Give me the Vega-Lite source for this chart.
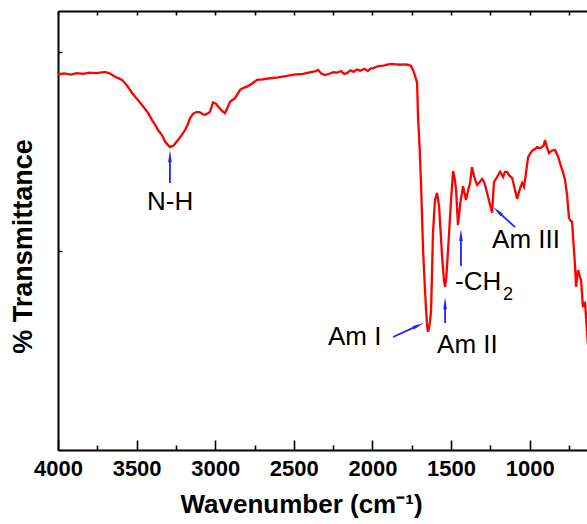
{
  "$schema": "https://vega.github.io/schema/vega-lite/v6.json",
  "width": 530,
  "height": 439,
  "autosize": {"type": "none"},
  "padding": {"left": 58, "top": 11, "right": 0, "bottom": 74},
  "background": "white",
  "config": {"view": {"stroke": null}, "font": "Liberation Sans"},
  "datasets": {
    "spectrum": [
      {"wn":4000,"t":94.4},{"wn":3960,"t":94.6},{"wn":3920,"t":94.3},{"wn":3880,"t":94.7},{"wn":3840,"t":94.5},{"wn":3800,"t":94.8},{"wn":3760,"t":94.7},{"wn":3720,"t":94.9},{"wn":3700,"t":95.0},{"wn":3670,"t":94.6},{"wn":3637,"t":93.8},{"wn":3610,"t":93.3},{"wn":3593,"t":93.0},{"wn":3560,"t":91.5},{"wn":3529,"t":89.7},{"wn":3500,"t":88.3},{"wn":3466,"t":86.7},{"wn":3427,"t":84.7},{"wn":3402,"t":82.9},{"wn":3380,"t":81.6},{"wn":3364,"t":80.4},{"wn":3340,"t":79.2},{"wn":3319,"t":77.5},{"wn":3300,"t":76.6},{"wn":3288,"t":76.1},{"wn":3265,"t":76.5},{"wn":3237,"t":77.9},{"wn":3215,"t":79.0},{"wn":3192,"t":80.4},{"wn":3175,"t":81.8},{"wn":3160,"t":83.4},{"wn":3140,"t":84.5},{"wn":3120,"t":84.9},{"wn":3100,"t":84.9},{"wn":3080,"t":84.4},{"wn":3065,"t":84.2},{"wn":3045,"t":84.6},{"wn":3033,"t":85.0},{"wn":3014,"t":87.3},{"wn":2995,"t":87.0},{"wn":2982,"t":86.3},{"wn":2960,"t":85.3},{"wn":2938,"t":84.6},{"wn":2920,"t":86.2},{"wn":2906,"t":87.5},{"wn":2874,"t":88.4},{"wn":2842,"t":90.5},{"wn":2820,"t":91.0},{"wn":2798,"t":91.3},{"wn":2765,"t":92.1},{"wn":2734,"t":93.0},{"wn":2700,"t":93.1},{"wn":2651,"t":93.4},{"wn":2600,"t":93.6},{"wn":2543,"t":94.0},{"wn":2500,"t":94.3},{"wn":2441,"t":94.5},{"wn":2400,"t":94.9},{"wn":2360,"t":95.2},{"wn":2346,"t":95.5},{"wn":2325,"t":94.6},{"wn":2302,"t":94.2},{"wn":2270,"t":94.6},{"wn":2250,"t":94.9},{"wn":2225,"t":94.8},{"wn":2200,"t":95.2},{"wn":2180,"t":94.5},{"wn":2162,"t":94.7},{"wn":2140,"t":95.4},{"wn":2120,"t":95.0},{"wn":2100,"t":95.6},{"wn":2079,"t":95.3},{"wn":2050,"t":95.8},{"wn":2030,"t":95.2},{"wn":2010,"t":95.9},{"wn":1996,"t":95.9},{"wn":1975,"t":96.3},{"wn":1952,"t":96.5},{"wn":1930,"t":96.6},{"wn":1900,"t":96.9},{"wn":1875,"t":97.0},{"wn":1850,"t":96.9},{"wn":1825,"t":96.8},{"wn":1800,"t":96.9},{"wn":1774,"t":96.8},{"wn":1755,"t":96.5},{"wn":1742,"t":95.5},{"wn":1729,"t":94.0},{"wn":1716,"t":92.2},{"wn":1710,"t":83.7},{"wn":1700,"t":76.0},{"wn":1691,"t":67.1},{"wn":1678,"t":50.3},{"wn":1668,"t":42.0},{"wn":1659,"t":35.2},{"wn":1652,"t":31.0},{"wn":1646,"t":29.7},{"wn":1640,"t":30.8},{"wn":1633,"t":32.5},{"wn":1627,"t":35.2},{"wn":1615,"t":54.5},{"wn":1602,"t":62.8},{"wn":1589,"t":64.6},{"wn":1576,"t":61.1},{"wn":1565,"t":54.0},{"wn":1557,"t":48.5},{"wn":1545,"t":42.5},{"wn":1538,"t":41.0},{"wn":1530,"t":43.5},{"wn":1519,"t":50.3},{"wn":1500,"t":62.8},{"wn":1487,"t":70.1},{"wn":1478,"t":68.5},{"wn":1468,"t":65.3},{"wn":1462,"t":61.0},{"wn":1456,"t":56.5},{"wn":1448,"t":59.5},{"wn":1438,"t":63.0},{"wn":1430,"t":64.6},{"wn":1424,"t":66.3},{"wn":1405,"t":62.8},{"wn":1390,"t":65.5},{"wn":1379,"t":67.1},{"wn":1367,"t":71.1},{"wn":1355,"t":69.0},{"wn":1347,"t":67.9},{"wn":1334,"t":66.6},{"wn":1318,"t":67.3},{"wn":1303,"t":68.1},{"wn":1293,"t":67.6},{"wn":1284,"t":66.6},{"wn":1265,"t":63.7},{"wn":1252,"t":61.6},{"wn":1239,"t":59.6},{"wn":1233,"t":63.5},{"wn":1227,"t":67.3},{"wn":1210,"t":68.4},{"wn":1188,"t":69.9},{"wn":1169,"t":68.6},{"wn":1157,"t":69.9},{"wn":1144,"t":69.9},{"wn":1130,"t":69.0},{"wn":1112,"t":68.4},{"wn":1093,"t":65.3},{"wn":1080,"t":63.1},{"wn":1070,"t":64.5},{"wn":1061,"t":65.8},{"wn":1048,"t":67.1},{"wn":1036,"t":66.1},{"wn":1022,"t":70.0},{"wn":1010,"t":73.6},{"wn":995,"t":74.6},{"wn":979,"t":75.4},{"wn":965,"t":75.6},{"wn":953,"t":76.1},{"wn":935,"t":75.8},{"wn":921,"t":76.1},{"wn":910,"t":76.6},{"wn":902,"t":77.9},{"wn":890,"t":76.0},{"wn":877,"t":74.6},{"wn":860,"t":75.2},{"wn":839,"t":75.4},{"wn":820,"t":73.8},{"wn":807,"t":72.1},{"wn":790,"t":70.0},{"wn":775,"t":67.9},{"wn":762,"t":64.0},{"wn":750,"t":58.3},{"wn":740,"t":57.6},{"wn":730,"t":57.3},{"wn":724,"t":53.5},{"wn":711,"t":46.0},{"wn":705,"t":41.0},{"wn":698,"t":43.5},{"wn":692,"t":45.2},{"wn":680,"t":43.5},{"wn":673,"t":42.7},{"wn":661,"t":35.9},{"wn":648,"t":37.2},{"wn":635,"t":29.4},{"wn":620,"t":22.0}
    ],
    "arrows": [
      {"name":"N-H","wn":3288,"t":67.1,"wn2":3288,"t2":73.0},
      {"name":"Am I","wn":1869,"t":28.4,"wn2":1707,"t2":31.3},
      {"name":"Am II","wn":1538,"t":31.9,"wn2":1538,"t2":36.5},
      {"name":"CH2","wn":1437,"t":46.2,"wn2":1437,"t2":53.5},
      {"name":"Am III","wn":1093,"t":56.0,"wn2":1205,"t2":60.0}
    ],
    "heads": [
      {"name":"N-H","dir":"up","wn":3288,"t":73.8},
      {"name":"Am II","dir":"up","wn":1538,"t":36.9},
      {"name":"CH2","dir":"up","wn":1437,"t":54.0},
      {"name":"Am I","dir":"upright","wn":1707,"t":31.3},
      {"name":"Am III","dir":"upleft","wn":1205,"t":60.06}
    ],
    "labels": [
      {"text":"N-H","kind":"main","wn":3434,"t":60.3},
      {"text":"Am I","kind":"main","wn":2283,"t":26.4},
      {"text":"Am II","kind":"main","wn":1589,"t":24.4},
      {"text":"-CH","kind":"main","wn":1475,"t":40.2},
      {"text":"Am III","kind":"main","wn":1239,"t":50.8},
      {"text":"2","kind":"sub","wn":1169,"t":37.7}
    ]
  },
  "layer": [
    {
      "data": {"name": "spectrum"},
      "mark": {"type": "line", "color": "#ff0000", "strokeWidth": 2.3, "clip": true},
      "encoding": {
        "x": {
          "field": "wn", "type": "quantitative",
          "scale": {"domain": [4000, 629], "nice": false, "zero": false},
          "axis": {
            "orient": "bottom",
            "values": [4000,3500,3000,2500,2000,1500,1000],
            "format": "d",
            "tickSize": -10,
            "tickColor": "black", "tickWidth": 1.6,
            "domainColor": "black", "domainWidth": 2,
            "labelFont": "Liberation Sans", "labelFontWeight": "bold", "labelFontSize": 22, "labelColor": "black",
            "labelPadding": 18, "labelFlush": false, "labelOverlap": false,
            "grid": false,
            "title": "Wavenumber (cm⁻¹)",
            "titleFont": "Liberation Sans", "titleFontWeight": "bold", "titleFontSize": 26, "titleColor": "black",
            "titleX": 243, "titleY": 62, "titleBaseline": "alphabetic"
          }
        },
        "y": {
          "field": "t", "type": "quantitative",
          "scale": {"domain": [0, 110.3], "nice": false, "zero": false},
          "title": "% Transmittance",
          "axis": {
            "orient": "left", "values": [0, 50, 100], "labels": false,
            "tickSize": -4, "tickColor": "black", "tickWidth": 1.4,
            "domainColor": "black", "domainWidth": 2, "grid": false,
            "titleFont": "Liberation Sans", "titleFontWeight": "bold", "titleFontSize": 27, "titleColor": "black",
            "titleAngle": 270, "titleBaseline": "middle", "titleAlign": "center",
            "titleX": -35, "titleY": 235
          }
        }
      }
    },
    {
      "data": {"name": "arrows"},
      "mark": {"type": "rule", "color": "#2222ff", "strokeWidth": 1.8},
      "encoding": {
        "x": {
          "field": "wn", "type": "quantitative",
          "axis": {
            "orient": "top",
            "values": [4000,3750,3500,3250,3000,2750,2500,2250,2000,1750,1500,1250,1000,750],
            "labels": false, "tickSize": -4, "tickColor": "black", "tickWidth": 1.6,
            "domainColor": "black", "domainWidth": 2, "grid": false, "title": null
          }
        },
        "x2": {"field": "wn2"},
        "y": {"field": "t", "type": "quantitative", "title": "% Transmittance"},
        "y2": {"field": "t2"}
      }
    },
    {
      "data": {"name": "heads"},
      "transform": [{"filter": "datum.dir == 'up'"}],
      "mark": {"type": "point", "shape": "M0,-1L-0.3,1L0.3,1Z", "filled": true, "color": "#2222ff", "size": 144, "opacity": 1, "angle": 0},
      "encoding": {
        "x": {
          "field": "wn", "type": "quantitative",
          "axis": {
            "orient": "bottom",
            "values": [3750,3250,2750,2250,1750,1250,750],
            "labels": false, "tickSize": -5, "tickColor": "black", "tickWidth": 1.6,
            "domain": false, "grid": false, "title": null
          }
        },
        "y": {"field": "t", "type": "quantitative", "title": "% Transmittance"}
      }
    },
    {
      "data": {"name": "heads"},
      "transform": [{"filter": "datum.dir == 'upright'"}],
      "mark": {"type": "point", "shape": "M0,-1L-0.3,1L0.3,1Z", "filled": true, "color": "#2222ff", "size": 144, "opacity": 1, "angle": 65.7},
      "encoding": {
        "x": {"field": "wn", "type": "quantitative", "axis": null},
        "y": {"field": "t", "type": "quantitative", "title": "% Transmittance"}
      }
    },
    {
      "data": {"name": "heads"},
      "transform": [{"filter": "datum.dir == 'upleft'"}],
      "mark": {"type": "point", "shape": "M0,-1L-0.3,1L0.3,1Z", "filled": true, "color": "#2222ff", "size": 144, "opacity": 1, "angle": 312},
      "encoding": {
        "x": {"field": "wn", "type": "quantitative", "axis": null},
        "y": {"field": "t", "type": "quantitative", "title": "% Transmittance"}
      }
    },
    {
      "data": {"name": "labels"},
      "transform": [{"filter": "datum.kind == 'main'"}],
      "mark": {"type": "text", "font": "Liberation Sans", "fontSize": 26, "color": "black", "align": "left", "baseline": "alphabetic"},
      "encoding": {
        "x": {"field": "wn", "type": "quantitative", "axis": null},
        "y": {"field": "t", "type": "quantitative", "title": "% Transmittance"},
        "text": {"field": "text"}
      }
    },
    {
      "data": {"name": "labels"},
      "transform": [{"filter": "datum.kind == 'sub'"}],
      "mark": {"type": "text", "font": "Liberation Sans", "fontSize": 18, "color": "black", "align": "left", "baseline": "alphabetic"},
      "encoding": {
        "x": {"field": "wn", "type": "quantitative", "axis": null},
        "y": {"field": "t", "type": "quantitative", "title": "% Transmittance"},
        "text": {"field": "text"}
      }
    }
  ],
  "resolve": {"axis": {"x": "independent"}}
}
